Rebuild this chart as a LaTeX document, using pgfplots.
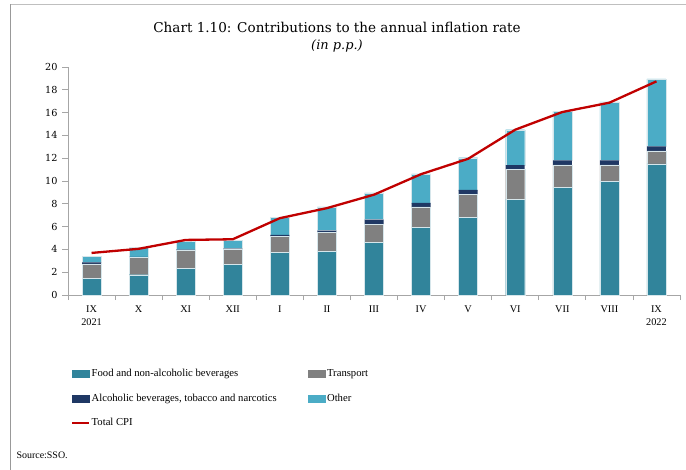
\documentclass[border=0pt]{standalone}
\usepackage{pgfplots}
\pgfplotsset{compat=1.18}
\usepackage{fontspec}
\setmainfont{Liberation Serif}
\newfontfamily\titlefont{DejaVu Serif}
\definecolor{food}{HTML}{31849B}
\definecolor{transp}{HTML}{808080}
\definecolor{alco}{HTML}{1F3864}
\definecolor{other}{HTML}{4BACC6}
\definecolor{cpi}{HTML}{C00000}
\definecolor{axgray}{HTML}{A6A6A6}
\pgfplotsset{common/.style={
  at={(68bp,-295bp)}, anchor=south west,
  scale only axis, width=612bp, height=228bp,
  xmin=-0.5, xmax=12.5, ymin=0, ymax=20}}
\begin{document}
\begin{tikzpicture}[x=1bp,y=1bp]
\path[use as bounding box] (0,0) rectangle (686,-470);
\draw[color=black!25, line width=1.5bp] (10,-4.5) -- (686,-4.5);
\draw[color=black!40, line width=0.8bp] (10,-4.5) -- (10,-470);
\node[font=\titlefont\fontsize{13.6}{16}\selectfont] at (337,-27) {Chart 1.10: Contributions to the annual inflation rate};
\node[font=\titlefont\fontsize{13}{16}\selectfont\itshape] at (337,-46) {(in p.p.)};
\node[font=\fontsize{10}{12}\selectfont, anchor=west] at (13,-455) {Source:SSO.};
\begin{axis}[common,
  ybar stacked, bar width=19bp,
  ytick={0,2,...,20},
  xtick={0,...,12},
  xticklabels={IX\\2021,X,XI,XII,I,II,III,IV,V,VI,VII,VIII,IX\\2022},
  minor xtick={-0.5,0.5,...,12.5},
  major x tick style={draw=none},
  tick align=outside,
  major tick length=6bp, minor tick length=5bp,
  axis x line*=bottom, axis y line*=left,
  axis line style={axgray, line width=0.8bp, -},
  every tick/.style={axgray, line width=0.8bp},
  x tick label style={align=center, font=\fontsize{10.3}{13.5}\selectfont, yshift=-1bp},
  y tick label style={font=\titlefont\fontsize{9.7}{12}\selectfont, xshift=-1bp},
  /pgf/number format/assume math mode=true,
]
\addplot[fill=food, draw=white!80!food, line width=0.4bp]
  coordinates {(0,1.47) (1,1.78) (2,2.35) (3,2.70) (4,3.72) (5,3.81) (6,4.63) (7,5.91) (8,6.79) (9,8.40) (10,9.46) (11,9.99) (12,11.51)};
\addplot[fill=transp, draw=white!80!food, line width=0.4bp]
  coordinates {(0,1.25) (1,1.53) (2,1.58) (3,1.34) (4,1.40) (5,1.67) (6,1.55) (7,1.82) (8,2.03) (9,2.65) (10,1.96) (11,1.43) (12,1.14)};
\addplot[fill=alco, draw=none]
  coordinates {(0,0.15) (1,0.04) (2,0.04) (3,0.03) (4,0.15) (5,0.17) (6,0.44) (7,0.35) (8,0.41) (9,0.35) (10,0.38) (11,0.38) (12,0.38)};
\addplot[fill=other, draw=white!80!food, line width=0.4bp]
  coordinates {(0,0.53) (1,0.83) (2,0.77) (3,0.70) (4,1.56) (5,2.08) (6,2.34) (7,2.55) (8,2.81) (9,3.10) (10,4.30) (11,5.13) (12,5.92)};
\end{axis}
\begin{axis}[common,
  hide axis,
  legend columns=2,
  legend cell align=left,
  legend style={at={(0.0,-0.31)}, anchor=north west, draw=none, fill=none,
    font=\fontsize{10.7}{12}\selectfont, row sep=12.5bp,
    /tikz/every even column/.append style={column sep=30bp},
    nodes={inner sep=1.5bp}},
]
\addlegendimage{legend image code/.code={\fill[food] (0bp,-3.5bp) rectangle (17bp,3.5bp);}}
\addlegendentry{Food and non-alcoholic beverages}
\addlegendimage{legend image code/.code={\fill[transp] (0bp,-3.5bp) rectangle (17bp,3.5bp);}}
\addlegendentry{Transport}
\addlegendimage{legend image code/.code={\fill[alco] (0bp,-3.5bp) rectangle (17bp,3.5bp);}}
\addlegendentry{Alcoholic beverages, tobacco and narcotics}
\addlegendimage{legend image code/.code={\fill[other] (0bp,-3.5bp) rectangle (17bp,3.5bp);}}
\addlegendentry{Other}
\addplot[sharp plot, cpi, line width=2.3bp, no markers,
  legend image code/.code={\draw[cpi, line width=2bp] (0bp,0bp) -- (17bp,0bp);}]
  coordinates {(0,3.69) (1,4.05) (2,4.83) (3,4.89) (4,6.74) (5,7.62) (6,8.80) (7,10.60) (8,11.95) (9,14.50) (10,16.05) (11,16.87) (12,18.74)};
\addlegendentry{Total CPI}
\end{axis}
\end{tikzpicture}
\end{document}
